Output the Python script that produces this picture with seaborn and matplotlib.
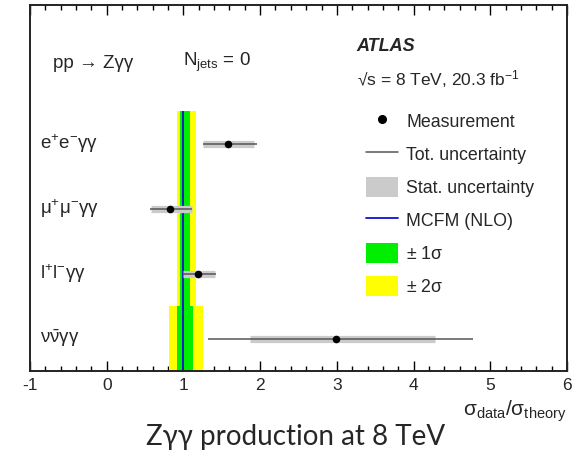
import matplotlib
matplotlib.use("Agg")
import matplotlib.pyplot as plt
from matplotlib.lines import Line2D
from matplotlib.patches import Patch
from matplotlib.ticker import MultipleLocator
import numpy as np
import pandas as pd
import seaborn as sns

# Measured cross-section ratios sigma_data / sigma_theory per channel
channels = [r"$\mathrm{e^{+}e^{-}\gamma\gamma}$",
            r"$\mathrm{\mu^{+}\mu^{-}\gamma\gamma}$",
            r"$\mathrm{l^{+}l^{-}\gamma\gamma}$",
            r"$\mathrm{\nu\bar{\nu}\gamma\gamma}$"]
ratio = [1.58, 0.82, 1.19, 2.99]
stat_lo = [1.26, 0.58, 1.00, 1.87]
stat_hi = [1.92, 1.11, 1.41, 4.28]
tot_lo = [1.26, 0.57, 0.99, 1.32]
tot_hi = [1.96, 1.11, 1.43, 4.77]

# Theory (MCFM NLO) uncertainty bands: charged-lepton block, neutrino block
band_channels = [[0, 1, 2], [3]]
one_sigma_lo = [0.956, 0.91]
one_sigma_hi = [1.086, 1.13]
two_sigma_lo = [0.92, 0.81]
two_sigma_hi = [1.16, 1.25]
theory_value = 1.0

xticks = [-1, 0, 1, 2, 3, 4, 5, 6]

sns.set_style("white")
plt.rcParams["font.family"] = ["Liberation Sans", "DejaVu Sans"]
plt.rcParams["mathtext.fontset"] = "custom"
plt.rcParams["mathtext.rm"] = "Liberation Sans"
plt.rcParams["mathtext.it"] = "Liberation Sans:italic"
plt.rcParams["mathtext.bf"] = "Liberation Sans:bold"

n = len(channels)
rows = [n - i for i in range(n)]
df = pd.DataFrame({"channel": channels, "row": rows, "ratio": ratio,
                   "stat_lo": stat_lo, "stat_hi": stat_hi,
                   "tot_lo": tot_lo, "tot_hi": tot_hi})

fig = plt.figure(figsize=(5.72, 4.54), dpi=100)
ax = fig.add_axes([30 / 572, 83 / 454, 537 / 572, 366 / 454])

# theory bands
for k, idx in enumerate(band_channels):
    ylo = min(rows[i] for i in idx) - 0.5
    yhi = max(rows[i] for i in idx) + 0.5
    yy = [ylo, yhi]
    ax.fill_betweenx(yy, two_sigma_lo[k], two_sigma_hi[k], color="#ffff00", lw=0, zorder=1)
    ax.fill_betweenx(yy, one_sigma_lo[k], one_sigma_hi[k], color="#00ee00", lw=0, zorder=1.5)
ax.vlines(theory_value, min(rows) - 0.5, max(rows) + 0.5, color="#1010d0", lw=1.3, zorder=2)

# uncertainties and measurements
ax.hlines(df["row"], df["stat_lo"], df["stat_hi"], color="#cbcbcb", lw=5.2, zorder=3)
ax.hlines(df["row"], df["tot_lo"], df["tot_hi"], color="#555555", lw=1.1, zorder=4)
sns.scatterplot(data=df, x="ratio", y="row", color="black", s=30, edgecolor="black",
                linewidth=0, zorder=5, legend=False, ax=ax)

for r, lab in zip(rows, channels):
    ax.text(-0.87, r, lab, fontsize=13.5, ha="left", va="center")

ax.set_xlim(-1, 6)
ax.set_ylim(0.5, 6.14)
ax.set_yticks([])
ax.set_ylabel("")
ax.set_xticks(xticks)
ax.set_xticklabels([str(t) for t in xticks])
ax.xaxis.set_minor_locator(MultipleLocator(0.2))
ax.tick_params(axis="x", which="both", direction="in", top=True, bottom=True,
               labelsize=12.5, pad=5, width=1, color="black")
ax.tick_params(axis="x", which="major", length=7.5)
ax.tick_params(axis="x", which="minor", length=3.8)
for s in ax.spines.values():
    s.set_color("#222222")
    s.set_linewidth(1.4)

ax.set_xlabel(r"$\mathrm{\sigma_{data}/\sigma_{theory}}$", fontsize=15, loc="right")
ax.xaxis.set_label_coords(1.0, -0.075)

ax.text(-0.7, 5.24, "pp → Zγγ", fontsize=13.5, ha="left", va="center")
ax.text(1.0, 5.26, r"N$_{\mathrm{jets}}$ = 0", fontsize=13.5, ha="left", va="center")
ax.text(3.26, 5.5, "ATLAS", fontsize=13, fontweight="bold", fontstyle="italic",
        ha="left", va="center")
ax.text(3.26, 5.0, "√s = 8 TeV, 20.3 fb$^{-1}$", fontsize=12.5, ha="left", va="center")

handles = [
    Line2D([], [], marker="o", color="black", ls="none", markersize=5.5),
    Line2D([], [], color="#555555", lw=1.1),
    Patch(facecolor="#cbcbcb", edgecolor="none"),
    Line2D([], [], color="#1010d0", lw=1.3),
    Patch(facecolor="#00ee00", edgecolor="none"),
    Patch(facecolor="#ffff00", edgecolor="none"),
]
labels = ["Measurement", "Tot. uncertainty", "Stat. uncertainty", "MCFM (NLO)",
          r"$\pm$ 1$\mathrm{\sigma}$", r"$\pm$ 2$\mathrm{\sigma}$"]
ax.legend(handles, labels, loc="upper left", bbox_to_anchor=(0.626, 0.71),
          frameon=False, fontsize=12.8, borderpad=0, borderaxespad=0,
          handlelength=1.8, handleheight=1.35, handletextpad=0.45, labelspacing=0.73)

fig.text(296 / 572, 1 - 437 / 454, "Zγγ production at 8 TeV", fontsize=20,
         family=["Lato", "DejaVu Sans"], ha="center", va="center")

fig.savefig("out.png", dpi=100)
